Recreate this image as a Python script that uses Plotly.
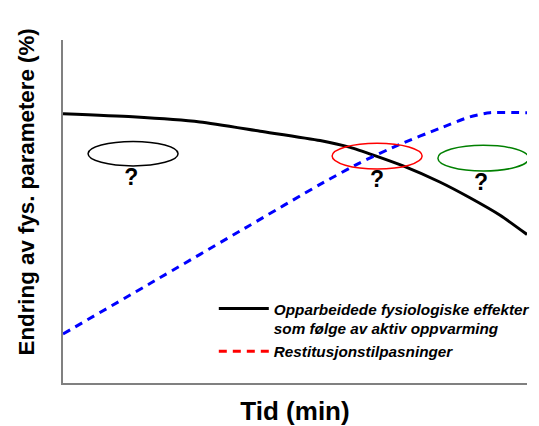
import plotly.graph_objects as go

# Time axis (arbitrary units 0-100) and effect values (arbitrary units 0-100)
time_black = [0, 15, 29.5, 42.5, 55.4, 61.9, 67.2, 73.3, 81.2, 87.7, 94.2, 100]
effect_black = [78.5, 77.6, 76.1, 73.4, 70.7, 68.7, 66.3, 63.3, 58.6, 54.0, 48.9, 43.3]

time_blue = [0, 18.75, 40.3, 55.4, 64.0, 72.6, 81.3, 87.7, 92.0, 100]
effect_blue = [14.3, 29.0, 46.0, 57.9, 64.2, 69.6, 74.3, 77.6, 78.8, 78.8]

# Ellipses (x0, x1, y0, y1, colour) and question marks
ellipses = [
    (5.4, 24.8, 63.3, 70.4, "black"),
    (58.0, 77.4, 62.4, 69.9, "red"),
    (80.8, 100.4, 61.8, 69.3, "green"),
]
q_x = [14.7, 67.7, 90.1]
q_y = [59.4, 58.7, 57.9]

name_black = "<b><i>Opparbeidede fysiologiske effekter<br>som følge av aktiv oppvarming</i></b>"
name_red = "<b><i>Restitusjonstilpasninger</i></b>"
x_title = "<b>Tid (min)</b>"
y_title = "<b>Endring av fys. parametere (%)</b>"

fig = go.Figure()
fig.add_trace(go.Scatter(x=time_black, y=effect_black, mode="lines",
                         line=dict(color="black", width=3, shape="spline", smoothing=0.6),
                         name=name_black))
fig.add_trace(go.Scatter(x=time_blue, y=effect_blue, mode="lines",
                         line=dict(color="#0000ff", width=3, dash="8px,6px", shape="spline", smoothing=0.6),
                         showlegend=False))
# legend-only entry for the red dashed series
fig.add_trace(go.Scatter(x=[None], y=[None], mode="lines",
                         line=dict(color="red", width=3, dash="8px,6px"),
                         name=name_red))

for x0, x1, y0, y1, c in ellipses:
    fig.add_shape(type="circle", xref="x", yref="y", x0=x0, x1=x1, y0=y0, y1=y1,
                  line=dict(color=c, width=1.5), layer="above")

fig.add_trace(go.Scatter(x=q_x, y=q_y, mode="text", text=["<b>?</b>"] * 3,
                         textfont=dict(size=23, color="black", family="Liberation Sans, Arial"),
                         showlegend=False, hoverinfo="skip", cliponaxis=False))

fig.add_annotation(text=y_title, xref="paper", yref="paper", x=-0.078, y=0.558,
                   xanchor="center", yanchor="middle", textangle=-90, showarrow=False,
                   font=dict(size=22.3, color="black"))

fig.update_layout(
    width=531, height=418,
    margin=dict(l=55, r=12, t=32, b=43, autoexpand=False),
    paper_bgcolor="white", plot_bgcolor="white",
    font=dict(family="Liberation Sans, Arial", color="black"),
    showlegend=True,
    legend=dict(x=0.325, y=0.265, xanchor="left", yanchor="top",
                bgcolor="rgba(0,0,0,0)", font=dict(size=15.3),
                valign="top", tracegroupgap=0, itemwidth=50),
)
fig.update_xaxes(range=[0, 100], showgrid=False, zeroline=False, showticklabels=False,
                 ticks="", showline=True, linecolor="#808080", linewidth=2, automargin=False,
                 title=dict(text=x_title, font=dict(size=26), standoff=27))
fig.update_yaxes(range=[0, 100], showgrid=False, zeroline=False, showticklabels=False,
                 ticks="", showline=True, linecolor="#808080", linewidth=2, automargin=False)

fig.write_html("out.html")
